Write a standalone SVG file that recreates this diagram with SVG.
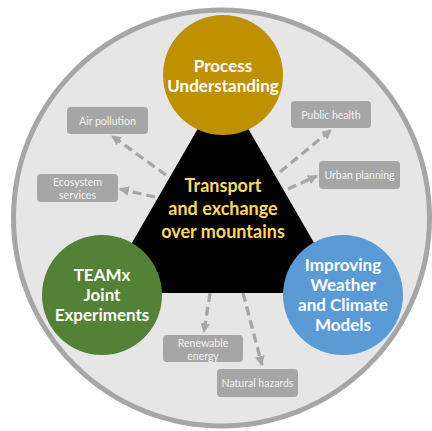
<svg xmlns="http://www.w3.org/2000/svg" width="432" height="431" viewBox="0 0 432 431">
<defs>
<marker id="ah" viewBox="0 0 10 10" refX="9" refY="5" markerWidth="3" markerHeight="3" orient="auto" markerUnits="strokeWidth">
<path d="M0,0 L10,5 L0,10 z" fill="#a6a6a6"/>
</marker>
<style>
.big{font-family:Lato,"Liberation Sans",sans-serif;font-weight:bold;font-size:17px;text-anchor:middle;fill:#ffffff}
.mid{fill:#ffd966;font-size:18px}
.box{fill:#a6a6a6}
.bt{font-family:Lato,"Liberation Sans",sans-serif;font-size:10.5px;text-anchor:middle;fill:#f2f2f2}
.arr{stroke:#a6a6a6;stroke-width:3.3;stroke-dasharray:9,5;fill:none;marker-end:url(#ah)}
</style>
</defs>
<g id="background">
<circle cx="221.5" cy="218" r="208" fill="#e6e6e6" stroke="#a6a6a6" stroke-width="5"/>
</g>
<g id="connectors">
<line class="arr" x1="166" y1="175" x2="112" y2="136"/>
<line class="arr" x1="155" y1="197" x2="120" y2="189"/>
<line class="arr" x1="280" y1="172" x2="331" y2="130"/>
<line class="arr" x1="288" y1="189" x2="317" y2="176"/>
<line class="arr" x1="210" y1="293" x2="204" y2="332"/>
<line class="arr" x1="243" y1="293" x2="262" y2="365"/>
</g>
<g id="center">
<polygon points="223,85 103,293 343,293" fill="#000000"/>
<text class="big mid" x="223" y="192">Transport</text>
<text class="big mid" x="223" y="215">and exchange</text>
<text class="big mid" x="223" y="238">over mountains</text>
</g>
<g id="process">
<circle cx="223" cy="75" r="60" fill="#bf9000"/>
<text class="big" x="223" y="72">Process</text>
<text class="big" x="223" y="92">Understanding</text>
</g>
<g id="teamx">
<circle cx="102" cy="295" r="60" fill="#538135"/>
<text class="big" x="102" y="281">TEAMx</text>
<text class="big" x="102" y="301">Joint</text>
<text class="big" x="102" y="321">Experiments</text>
</g>
<g id="models">
<circle cx="343" cy="295" r="60" fill="#5b9bd5"/>
<text class="big" x="343" y="271">Improving</text>
<text class="big" x="343" y="291">Weather</text>
<text class="big" x="343" y="311">and Climate</text>
<text class="big" x="343" y="331">Models</text>
</g>
<g id="air-pollution">
<rect class="box" x="67" y="107" width="81" height="27" rx="4"/>
<text class="bt" x="107.5" y="124.5">Air pollution</text>
</g>
<g id="ecosystem-services">
<rect class="box" x="37" y="174" width="81" height="28" rx="4"/>
<text class="bt" x="77.5" y="185.5">Ecosystem</text>
<text class="bt" x="77.5" y="198.5">services</text>
</g>
<g id="public-health">
<rect class="box" x="291" y="101" width="80" height="27" rx="4"/>
<text class="bt" x="331" y="118.5">Public health</text>
</g>
<g id="urban-planning">
<rect class="box" x="319" y="161" width="81" height="28" rx="4"/>
<text class="bt" x="359.5" y="179">Urban planning</text>
</g>
<g id="renewable-energy">
<rect class="box" x="163" y="335" width="80" height="27" rx="4"/>
<text class="bt" x="203" y="346.5">Renewable</text>
<text class="bt" x="203" y="359.5">energy</text>
</g>
<g id="natural-hazards">
<rect class="box" x="217" y="369" width="81" height="28" rx="4"/>
<text class="bt" x="257.5" y="386.5">Natural hazards</text>
</g>
</svg>
